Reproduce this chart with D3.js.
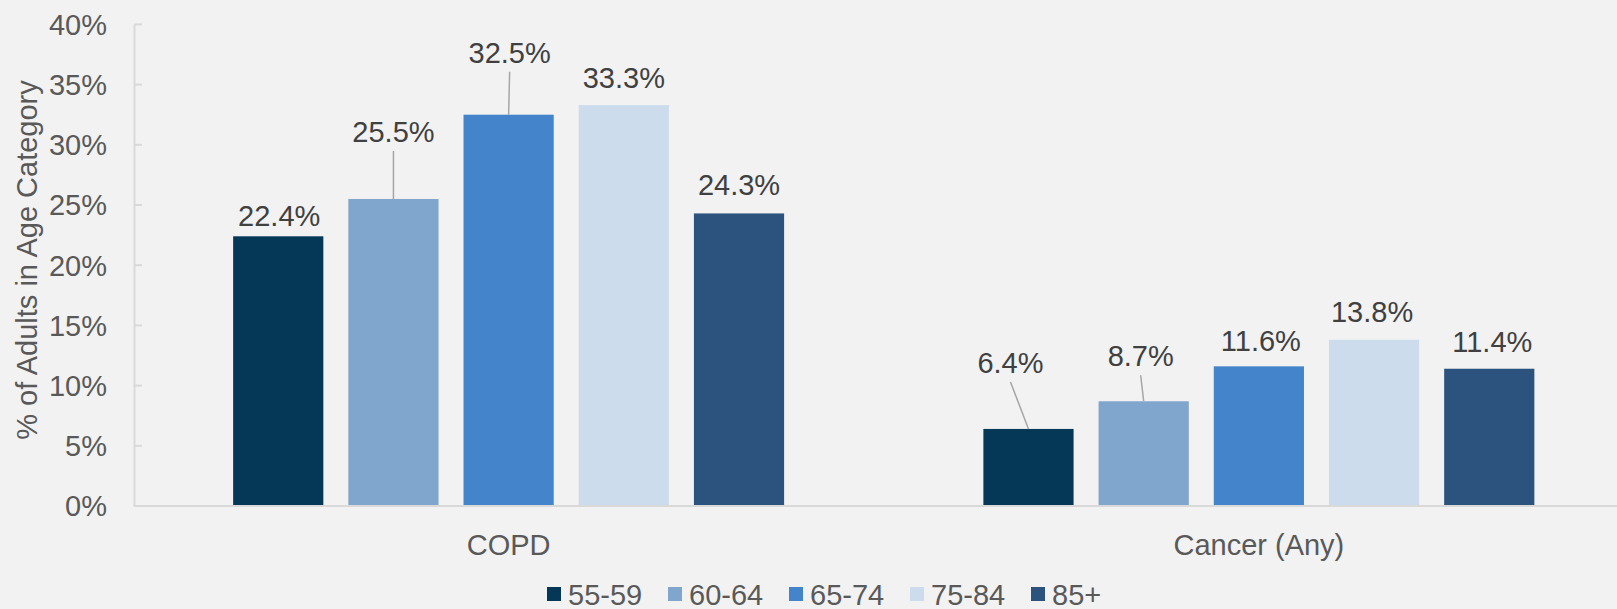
<!DOCTYPE html>
<html>
<head>
<meta charset="utf-8">
<script src="https://cdn.jsdelivr.net/npm/d3@7"></script>
<style>
  body { margin: 0; background: #f2f2f2; }
  svg { display: block; font-family: "Liberation Sans", Arial, sans-serif; }
</style>
</head>
<body>
<div id="chart"></div>
<script>

var categories = ["COPD", "Cancer (Any)"];
var ageGroups = ["55-59", "60-64", "65-74", "75-84", "85+"];
var copdValues = [22.4, 25.5, 32.5, 33.3, 24.3];
var cancerValues = [6.4, 8.7, 11.6, 13.8, 11.4];
var yTicks = [0, 5, 10, 15, 20, 25, 30, 35, 40];
var colors = ["#043856", "#80a6cd", "#4384ca", "#ccdcec", "#2c537e"];

// label placement tweaks (gap above bar, x shift, leader line yes/no)
var copdLabelGap = [10, 57, 52, 17, 18];
var copdLabelDx = [1, 0, 1, 0, 0];
var copdLeader = [false, true, true, false, false];
var cancerLabelGap = [56, 35, 15, 18, 17];
var cancerLabelDx = [-18, -3, 2, -2, 3];
var cancerLeader = [true, true, false, false, false];

var seriesByCat = [copdValues, cancerValues];
var gapByCat = [copdLabelGap, cancerLabelGap];
var dxByCat = [copdLabelDx, cancerLabelDx];
var leaderByCat = [copdLeader, cancerLeader];

var width = 1617, height = 609;
var fontSize = "29px";

var svg = d3.select("#chart").append("svg")
    .attr("width", width)
    .attr("height", height);

var x0 = d3.scaleBand().domain(categories).range([133.5, 1634]);
var x1 = d3.scaleBand().domain(ageGroups).range([0, x0.bandwidth()])
    .paddingInner(0.217).paddingOuter(0.865);
var y = d3.scaleLinear().domain([0, 40]).range([506, 24.4]);

var axisColor = "#d9d9d9";

// y axis line and inside ticks
svg.append("line")
    .attr("x1", 134.5).attr("x2", 134.5)
    .attr("y1", y(40)).attr("y2", y(0))
    .attr("stroke", axisColor).attr("stroke-width", 2);

svg.selectAll(".ytick")
    .data(yTicks)
    .enter().append("line")
    .attr("x1", 134.5).attr("x2", 142)
    .attr("y1", function(d) { return y(d); })
    .attr("y2", function(d) { return y(d); })
    .attr("stroke", axisColor).attr("stroke-width", 2);

svg.selectAll(".ylabel")
    .data(yTicks)
    .enter().append("text")
    .attr("x", 107)
    .attr("y", function(d) { return y(d); })
    .attr("dy", "0.36em")
    .style("text-anchor", "end")
    .style("font-size", fontSize)
    .style("fill", "#595959")
    .text(function(d) { return d + "%"; });

svg.append("text")
    .attr("transform", "translate(37," + 260 + ") rotate(-90)")
    .style("text-anchor", "middle")
    .style("font-size", fontSize)
    .style("fill", "#595959")
    .text("% of Adults in Age Category");

// bars
var rows = [];
categories.forEach(function(c, ci) {
  ageGroups.forEach(function(a, ai) {
    rows.push({cat: c, ci: ci, age: a, ai: ai, value: seriesByCat[ci][ai]});
  });
});

svg.selectAll(".bar")
    .data(rows)
    .enter().append("rect")
    .attr("x", function(d) { return x0(d.cat) + x1(d.age); })
    .attr("y", function(d) { return y(d.value); })
    .attr("width", x1.bandwidth())
    .attr("height", function(d) { return y(0) - y(d.value); })
    .style("fill", function(d) { return colors[d.ai]; });

// x axis line
svg.append("line")
    .attr("x1", 133.5).attr("x2", width)
    .attr("y1", y(0)).attr("y2", y(0))
    .attr("stroke", axisColor).attr("stroke-width", 2);

svg.selectAll(".xlabel")
    .data(categories)
    .enter().append("text")
    .attr("x", function(d) { return x0(d) + x0.bandwidth() / 2; })
    .attr("y", 555)
    .style("text-anchor", "middle")
    .style("font-size", fontSize)
    .style("fill", "#595959")
    .text(function(d) { return d; });

// leader lines
function barCenter(d) { return x0(d.cat) + x1(d.age) + x1.bandwidth() / 2; }
function labelBase(d) { return y(d.value) - gapByCat[d.ci][d.ai]; }

svg.selectAll(".leader")
    .data(rows.filter(function(d) { return leaderByCat[d.ci][d.ai]; }))
    .enter().append("line")
    .attr("x1", function(d) { return barCenter(d) + dxByCat[d.ci][d.ai]; })
    .attr("y1", function(d) { return labelBase(d) + 9; })
    .attr("x2", function(d) { return barCenter(d); })
    .attr("y2", function(d) { return y(d.value); })
    .attr("stroke", "#a6a6a6").attr("stroke-width", 1.5);

// data labels
svg.selectAll(".vlabel")
    .data(rows)
    .enter().append("text")
    .attr("x", function(d) { return barCenter(d) + dxByCat[d.ci][d.ai]; })
    .attr("y", function(d) { return labelBase(d); })
    .style("text-anchor", "middle")
    .style("font-size", fontSize)
    .style("fill", "#404040")
    .text(function(d) { return d.value.toFixed(1) + "%"; });

// legend
var legend = svg.selectAll(".legend")
    .data(ageGroups)
    .enter().append("g")
    .attr("transform", function(d, i) { return "translate(" + (547 + i * 121) + ",587)"; });

legend.append("rect")
    .attr("width", 14).attr("height", 14)
    .style("fill", function(d, i) { return colors[i]; });

legend.append("text")
    .attr("x", 21)
    .attr("y", 17.5)
    .style("font-size", fontSize)
    .style("fill", "#595959")
    .text(function(d) { return d; });

</script>
</body>
</html>
